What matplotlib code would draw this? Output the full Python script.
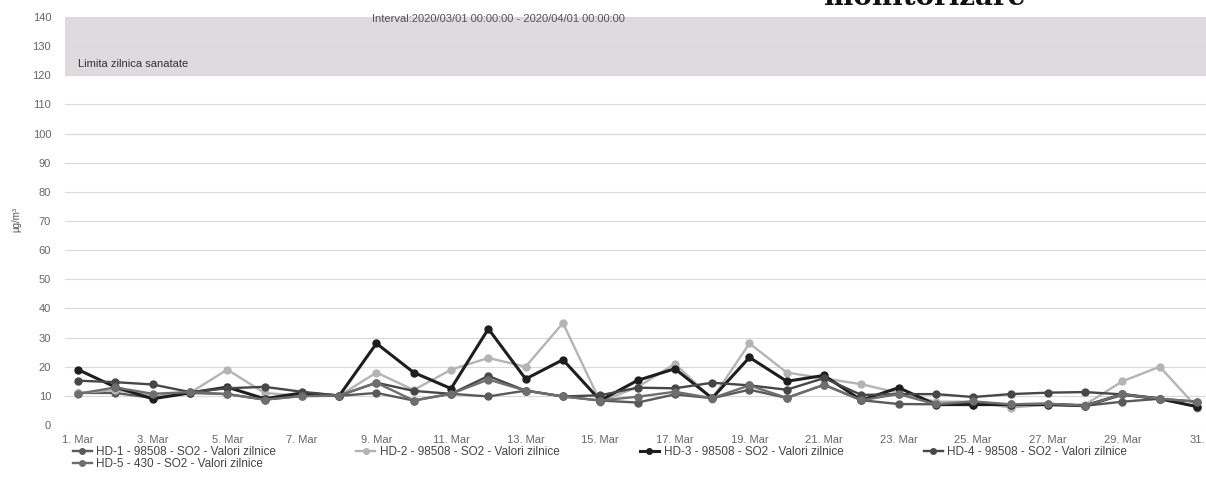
import matplotlib.pyplot as plt
import numpy as np

plt.rcParams['font.family'] = ['Liberation Sans', 'DejaVu Sans']

# zile martie 2020, valori zilnice SO2 (ug/m3)
days = list(range(1, 32))
hd1 = [11, 11, 9.3, 11, 10.6, 8.7, 10, 10, 11, 8.4, 10.7, 9.8, 11.8, 9.8, 8.4, 7.7,
       10.5, 9.2, 12.1, 9.3, 13.8, 8.5, 7.2, 7.1, 7, 7.1, 7.3, 6.6, 8, 9, 6.3]
hd2 = [11, 12, 10, 11, 19, 11, 10, 10, 18, 12, 19, 23, 20, 35, 8, 13,
       21, 9, 28, 18, 16, 14, 11, 8, 8, 6, 7, 7, 15, 20, 6]
hd3 = [19, 13, 9, 11, 13, 9, 11, 10, 28, 18, 12.5, 33, 15.8, 22.4, 8.4, 15.3,
       19.3, 9.2, 23.2, 15, 17, 8.5, 12.8, 7, 7, 7, 7, 6.6, 10.5, 9, 6.3]
hd4 = [15.2, 14.7, 13.9, 11.3, 12.6, 13.1, 11.4, 10.1, 14.5, 11.7, 10.7, 16.8, 11.8, 9.8, 10.2, 12.8,
       12.6, 14.5, 13.6, 12.1, 16.1, 10.3, 10.6, 10.6, 9.6, 10.6, 11.1, 11.3, 10.5, 9, 8]
hd5 = [10.7, 12.9, 10.7, 11.3, 10.6, 8.7, 9.9, 10.1, 14.5, 8.4, 10.7, 15.6, 11.8, 9.8, 8.4, 9.7,
       11.4, 9.2, 13.6, 9.3, 13.8, 8.5, 10.6, 7.1, 8.1, 7.1, 7.3, 6.6, 10.5, 9, 8]

labels = ['HD-1 - 98508 - SO2 - Valori zilnice',
          'HD-2 - 98508 - SO2 - Valori zilnice',
          'HD-3 - 98508 - SO2 - Valori zilnice',
          'HD-4 - 98508 - SO2 - Valori zilnice',
          'HD-5 - 430 - SO2 - Valori zilnice']
colors = ['#5a5a5a', '#b4b4b4', '#1e1e1e', '#474747', '#6e6e6e']

tick_days = days[::2]
tick_labels = ['%d. Mar' % d for d in tick_days]
tick_labels[-1] = '31.'

fig = plt.figure(figsize=(12.06, 4.82), dpi=100)
ax = fig.add_axes([65/1206, 57/482, 1141/1206, 408/482])

# banda limita zilnica
ax.axhspan(120, 140, color='#dedade', zorder=0, lw=0)
ax.text(0.011, 123.8, 'Limita zilnica sanatate', transform=ax.get_yaxis_transform(),
        fontsize=8, color='#333333', va='center')

lines = []
for vals, lab, col in zip([hd1, hd2, hd3, hd4, hd5], labels, colors):
    lw = 2.2 if col == '#1e1e1e' else 1.7
    l, = ax.plot(days, vals, color=col, lw=lw, marker='o', ms=5, label=lab)
    lines.append(l)

ax.set_xlim(0.65, 31.24)
ax.set_ylim(0, 140)
ax.set_yticks(range(0, 141, 10))
ax.set_xticks(tick_days)
ax.set_xticklabels(tick_labels)
ax.tick_params(length=0, labelsize=8, colors='#666666')
ax.tick_params(axis='y', pad=10)
ax.tick_params(axis='x', pad=7)
ax.grid(axis='y', color='#d9d9d9', lw=0.8)
ax.set_axisbelow(True)
for s in ax.spines.values():
    s.set_visible(False)

fig.text(16/1206, 1 - 220/482, 'µg/m³', rotation=90, fontsize=7, color='#555555',
         ha='center', va='center')
fig.text(372/1206, 1 - 19/482, 'Interval:2020/03/01 00:00:00 - 2020/04/01 00:00:00',
         fontsize=8, color='#555555', va='center')
fig.text(1025/1206, 1 - 5/482, 'monitorizare', fontsize=20, fontweight='bold',
         family='DejaVu Serif', ha='right', va='baseline', color='#111111')

order = [0, 4, 1, 2, 3]
fig.legend([lines[i] for i in order], [labels[i] for i in order], ncol=4,
           loc='center left', bbox_to_anchor=(62/1206, 1 - 458/482), frameon=False,
           fontsize=8.5, labelspacing=0.05, handlelength=1.6, handletextpad=0.4,
           columnspacing=6.8, labelcolor='#444444', markerscale=0.8)

fig.savefig('out.png', dpi=100)
